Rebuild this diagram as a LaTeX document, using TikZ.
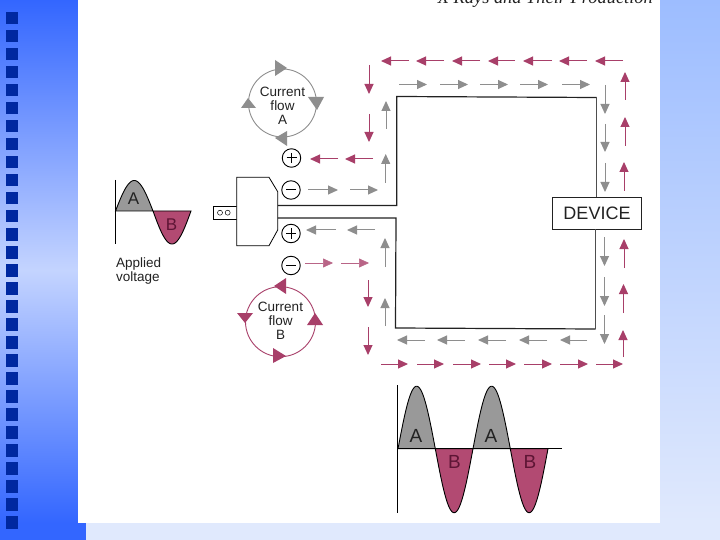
\documentclass[tikz,border=0pt]{standalone}
\usepackage{fontspec}
\setmainfont{Liberation Sans}
\newfontfamily\captionserif{Liberation Serif}
\usetikzlibrary{arrows.meta}
\definecolor{flowgray}{HTML}{8E8E8E}
\definecolor{flowpink}{HTML}{A83F69}
\definecolor{fillgray}{HTML}{999999}
\definecolor{fillpink}{HTML}{B24A72}
\definecolor{darkpink}{HTML}{5E1535}
\definecolor{inkdark}{HTML}{222222}
\definecolor{bullet}{HTML}{0028A0}
\definecolor{bandstrong}{HTML}{3366FF}
\definecolor{bandpale}{HTML}{C4D4FF}
\definecolor{sidetop}{HTML}{9DBDFF}
\definecolor{sidebottom}{HTML}{E0E9FD}
\tikzset{
  grayflow/.style={draw=flowgray,line width=1pt,-{Triangle[length=10pt,width=9pt]}},
  pinkflow/.style={draw=flowpink,line width=1pt,-{Triangle[length=10pt,width=9pt]}},
  thinflow/.style={draw=flowpink!80,line width=0.6pt,-{Triangle[length=10pt,width=9pt]}},
  wire/.style={draw=inkdark,line width=1.2pt},
  thinwire/.style={draw=inkdark!80,line width=0.7pt},
  body/.style={draw=black,line width=0.8pt,fill=white},
  pole/.style={circle,draw=black,line width=0.9pt,fill=white,minimum size=18.5pt,inner sep=0pt},
  flowtext/.style={font=\fontsize{13.5}{14}\selectfont,text=inkdark,align=center,inner sep=0pt},
  wavetext/.style={font=\fontsize{17}{17}\selectfont,inner sep=0pt},
  bigwavetext/.style={font=\fontsize{19}{19}\selectfont,inner sep=0pt},
}
\begin{document}
\begin{tikzpicture}[x=1pt,y=-1pt]
\useasboundingbox (0,0) rectangle (720,540);
\clip (0,0) rectangle (720,540);
% slide background
\fill[sidebottom] (0,0) rectangle (720,540);
\shade[top color=sidetop,bottom color=sidebottom] (660,0) rectangle (720,523);
\shade[top color=bandstrong,bottom color=bandpale] (0,0) rectangle (78,270);
\shade[top color=bandpale,bottom color=bandstrong] (0,270) rectangle (78,523);
\fill[bandstrong] (0,523) rectangle (86,540);
\fill[white] (78,0) rectangle (660,523);
\foreach \k in {0,...,28} \fill[bullet] (6,12+18*\k) rectangle (18,24.5+18*\k);
% running head
\node[anchor=base east,inner sep=0pt,text=inkdark] (head) at (653,4) {\captionserif\itshape\fontsize{18.4}{19}\selectfont X Rays and Their Production};
% device and wires
\node[draw=inkdark,line width=1.1pt,fill=white,minimum width=89pt,minimum height=32pt,inner sep=0pt,font=\fontsize{18}{18}\selectfont,text=inkdark] (device) at (597,213.3) {DEVICE};
\coordinate (ta) at (277.7,205.5);
\coordinate (tb) at (396.7,205.5);
\coordinate (tc) at (396.7,96.5);
\coordinate (td) at (596.5,97.5);
\coordinate (la) at (277.7,218);
\coordinate (lb) at (396,218);
\coordinate (lc) at (395.5,328);
\coordinate (ld) at (595.5,329);
\draw[wire] (ta) -- (tb) -- (tc) -- (td);
\draw[wire] (la) -- (lb) -- (lc) -- (ld);
\draw[thinwire] (td) -- (596.5,197.3);
\draw[thinwire] (ld) -- (595.5,229.3);
% plug body
\draw[body] (213.5,206.5) rectangle (237,219);
\draw[body] (236.7,177.3) -- (269,177.3) -- (277.7,191.7) -- (277.7,230) -- (269,245.7) -- (236.7,245.7) -- cycle;
\node[circle,draw=black,line width=0.5pt,minimum size=5pt,inner sep=0pt] (pina) at (220,212.7) {};
\node[circle,draw=black,line width=0.5pt,minimum size=5pt,inner sep=0pt] (pinb) at (227.7,212.7) {};
% poles
\node[pole] (pa) at (291.5,158) {};
\node[pole] (pb) at (291,190) {};
\node[pole] (pc) at (291,233.5) {};
\node[pole] (pd) at (291,265.5) {};
\draw[line width=1pt] (286.5,158) -- (296.5,158) (291.5,153) -- (291.5,163);
\draw[line width=1pt] (286,190) -- (296,190);
\draw[line width=1pt] (286,233.5) -- (296,233.5) (291,228.5) -- (291,238.5);
\draw[line width=1pt] (286,265.5) -- (296,265.5);
% pink flow
\foreach \a/\b in {409/381,444/416,480/452,515/488,552/523,587/559,623/595}
  \draw[pinkflow] (\a,61) -- (\b,61);
\foreach \a/\b in {381/408,417/444,453/481,489/516,524/552,560/588,596/623}
  \draw[pinkflow] (\a,364) -- (\b,364);
\foreach \x/\a/\b in {625/100/72,625/146/117,624/191/162,624/268/239,623.5/313/284,623/357/330}
  \draw[pinkflow] (\x,\a) -- (\x,\b);
\foreach \x/\a/\b in {369/65/94,369/114/142,368/280/307,368/327/355}
  \draw[pinkflow] (\x,\a) -- (\x,\b);
\foreach \a/\b in {338/310,373/345}
  \draw[pinkflow] (\a,159) -- (\b,159);
\foreach \a/\b in {305/333,341/369}
  \draw[thinflow] (\a,263) -- (\b,263);
% gray flow
\foreach \a/\b in {399/427,440/468,480/508,520/548,562/590}
  \draw[grayflow] (\a,84.5) -- (\b,84.5);
\foreach \a/\b in {425/397,465/437,506/478,547/519,587/560}
  \draw[grayflow] (\a,340) -- (\b,340);
\foreach \x/\a/\b in {605/85/114,605/124/152,605/163/192,604.5/237/266,604.5/277/306,604.5/315/344}
  \draw[grayflow] (\x,\a) -- (\x,\b);
\foreach \x/\a/\b in {386/129/101,385.7/183/154,385/267/238,385/326/298}
  \draw[grayflow] (\x,\a) -- (\x,\b);
\foreach \a/\b in {308/338,350/378}
  \draw[grayflow] (\a,190) -- (\b,190);
\foreach \a/\b in {336/306,375/347}
  \draw[grayflow] (\a,230) -- (\b,230);
% current flow A
\node[circle,draw=flowgray,line width=0.9pt,minimum size=68pt,inner sep=0pt] (loopa) at (282.5,103) {};
\fill[flowgray] (275,60) -- (287,68) -- (275,76) -- cycle;
\fill[flowgray] (308,97) -- (324,97) -- (317,110) -- cycle;
\fill[flowgray] (287,131) -- (275,138) -- (287,146) -- cycle;
\fill[flowgray] (241,108) -- (256,108) -- (248,98) -- cycle;
\node[flowtext] (texta) at (282.5,106) {Current\\flow\\A};
% current flow B
\node[circle,draw=flowpink,line width=0.9pt,minimum size=70pt,inner sep=0pt] (loopb) at (280.5,321.7) {};
\fill[flowpink] (286,278) -- (274,286) -- (286,294) -- cycle;
\fill[flowpink] (307,325) -- (323,325) -- (315,313) -- cycle;
\fill[flowpink] (273,348) -- (286,356) -- (273,363) -- cycle;
\fill[flowpink] (237,313) -- (253,313) -- (245,323) -- cycle;
\node[flowtext] (textb) at (280.5,321) {Current\\flow\\B};
% applied voltage wave
\draw[draw=black,line width=0.9pt,fill=fillgray] plot[domain=0:180,samples=50] ({115.5+\x/180*37.5},{211-30.5*sin(\x)}) -- cycle;
\draw[draw=black,line width=0.9pt,fill=fillpink] plot[domain=0:180,samples=50] ({153+\x/180*38},{211+33*sin(\x)}) -- cycle;
\draw[line width=0.9pt] (115.5,180) -- (115.5,244);
\node[wavetext,text=inkdark] (wa) at (133.5,199) {A};
\node[wavetext,text=darkpink] (wb) at (171.5,225) {B};
\node[flowtext,align=left,anchor=north west] (applied) at (116,257.5) {Applied\\voltage};
% output wave
\foreach \s in {398,473}
  \draw[draw=black,line width=0.9pt,fill=fillgray] plot[domain=0:180,samples=50] ({\s+\x/180*37.3},{448.7-62.5*sin(\x)}) -- cycle;
\foreach \s in {435.3,510.3}
  \draw[draw=black,line width=0.9pt,fill=fillpink] plot[domain=0:180,samples=50] ({\s+\x/180*37.7},{448.7+64*sin(\x)}) -- cycle;
\draw[line width=1pt] (397.7,385) -- (397.7,512.7);
\draw[line width=1pt] (397.7,448.7) -- (561.7,448.7);
\node[bigwavetext,text=inkdark] (oa) at (416,436) {A};
\node[bigwavetext,text=inkdark] (ob) at (491,436) {A};
\node[bigwavetext,text=darkpink] (oc) at (454.5,462) {B};
\node[bigwavetext,text=darkpink] (od) at (530,462) {B};
\end{tikzpicture}
\end{document}
